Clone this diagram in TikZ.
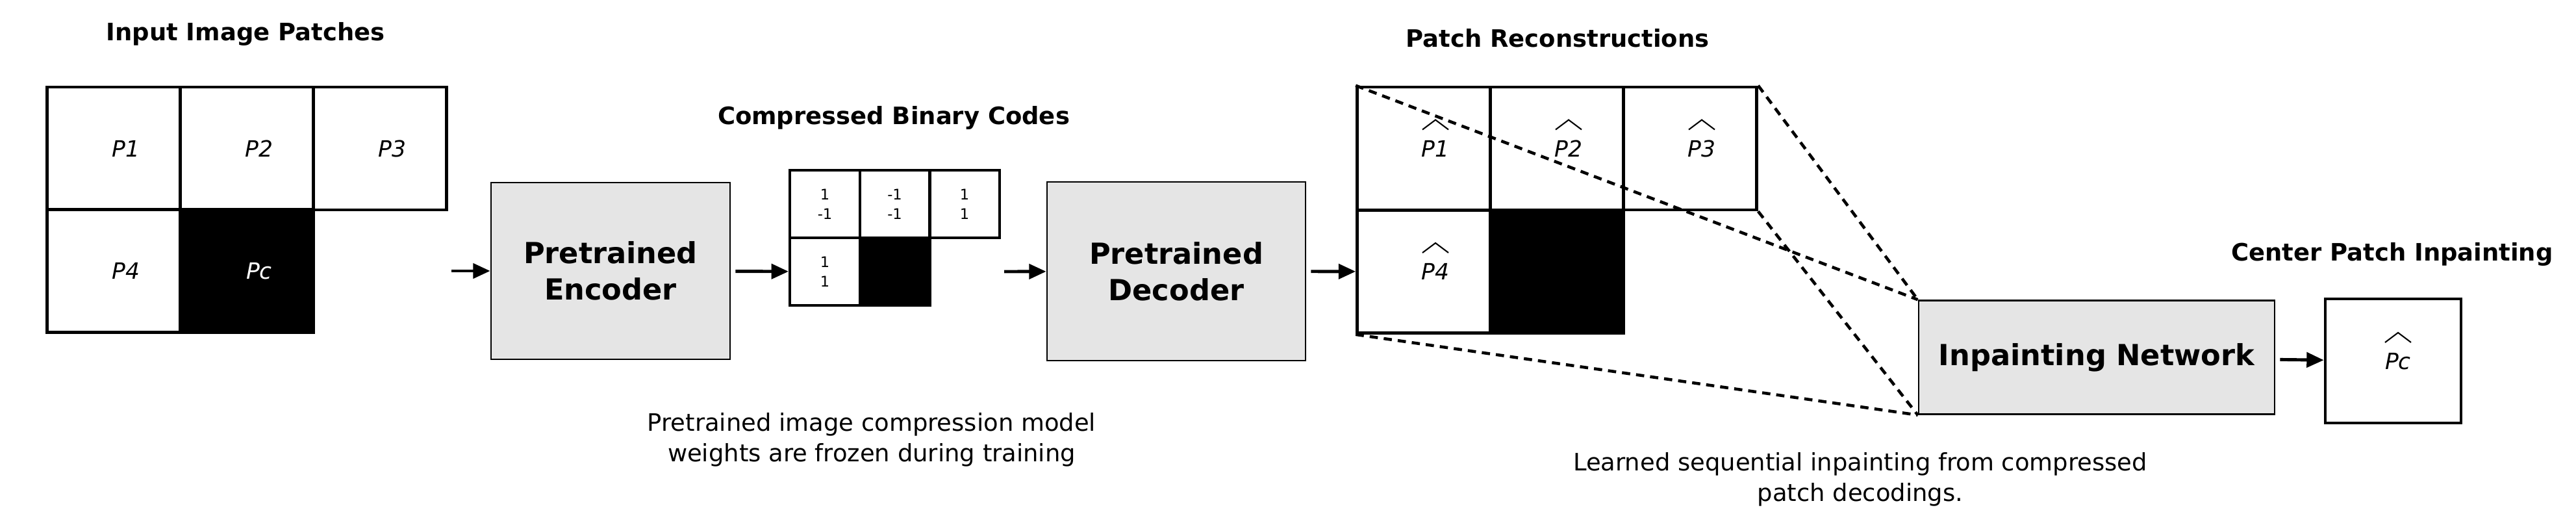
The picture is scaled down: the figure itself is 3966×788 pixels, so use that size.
\documentclass[tikz,border=0pt]{standalone}
\usepackage{fontspec}
\setmainfont{DejaVu Sans}
\usepackage{tikz}
\usetikzlibrary{arrows.meta}

\begin{document}
\begin{tikzpicture}[x=0.01cm,y=-0.01cm,
        cell/.style={draw,line width=1.3pt,minimum width=2.05cm,minimum height=1.89cm,inner sep=0pt},
        code/.style={draw,line width=1.2pt,minimum width=1.077cm,minimum height=1.04cm,inner sep=0pt,
          align=center,font=\fontsize{6.4}{8.5}\selectfont},
        net/.style={draw,line width=0.7pt,fill=black!10,align=center,inner sep=0pt,
          font=\bfseries\fontsize{12.7}{15.9}\selectfont},
        plabel/.style={font=\itshape\fontsize{9.8}{11}\selectfont,inner sep=0pt},
        title/.style={font=\bfseries\fontsize{10.5}{13}\selectfont,anchor=base,inner sep=0pt},
        note/.style={font=\fontsize{10.5}{13.4}\selectfont,align=center,inner sep=0pt},
        flow/.style={line width=1.4pt,-{Triangle[length=7.5pt,width=6.5pt]}},
        link/.style={line width=1.3pt,dash pattern=on 3.6pt off 2.6pt},
        hat/.style={line width=0.6pt}]
        \useasboundingbox (0,0) rectangle (3966,788);

        \node[title] (t1) at (378,62.5) {Input Image Patches};
        \node[title] (t2) at (1376,192) {Compressed Binary Codes};
        \node[title] (t3) at (2398,72.5) {Patch Reconstructions};
        \node[title] (t4) at (3683,401) {Center Patch Inpainting};

        \foreach \n/\x/\y in {i1/175/228.5, i2/380/228.5, i3/585/228.5, i4/175/417} {
          \node[cell] (\n) at (\x,\y) {};
        }
        \node[cell,fill=black] (i5) at (380,417) {};
        \foreach \n/\x/\y/\t in {i1/175/228.5/P1, i2/380/228.5/P2, i3/585/228.5/P3, i4/175/417/P4} {
          \node[plabel] (l\n) at (\x+19,\y) {\t};
        }
        \node[plabel,text=white] (li5) at (399,417) {Pc};

        \node[net,minimum width=3.68cm,minimum height=2.72cm] (enc) at (940,417) {Pretrained\\Encoder};

        \foreach \n/\x/\y/\t in {c1/1270/314/{1\\-1}, c2/1377.5/314/{-1\\-1}, c3/1485/314/{1\\1}, c4/1270/418/{1\\1}} {
          \node[code] (\n) at (\x,\y) {\t};
        }
        \node[code,fill=black] (c5) at (1377.5,418) {};

        \node[net,minimum width=3.98cm,minimum height=2.75cm] (dec) at (1811,417.5) {Pretrained\\Decoder};

        \foreach \n/\x/\y in {r1/2192/228.5, r2/2397/228.5, r3/2602/228.5, r4/2192/418} {
          \node[cell] (\n) at (\x,\y) {};
        }
        \node[cell,fill=black] (r5) at (2397,418) {};
        \foreach \n/\x/\y/\t in {r1/2192/228.5/P1, r2/2397/228.5/P2, r3/2602/228.5/P3, r4/2192/418/P4} {
          \node[plabel] (l\n) at (\x+18,\y) {\t};
        }

        \node[net,minimum width=5.48cm,minimum height=1.75cm] (inp) at (3228,550) {Inpainting Network};
        \node[draw,line width=1.3pt,minimum width=2.09cm,minimum height=1.91cm] (out) at (3684.5,555.5) {};
        \node[plabel] (lpc) at (3692,556) {Pc};

        \foreach \n in {lr1,lr2,lr3,lr4,lpc} {
          \draw[hat] ([shift={(-20,-29)}]\n.center) -- ++(20,-15) -- ++(20,15);
        }

        \coordinate (iR) at (695,417);
        \coordinate (cR) at (1546,418);
        \draw[flow] (iR) -- (enc);
        \draw[flow,shorten <=2pt] (enc) -- (c4);
        \draw[flow] (cR) -- (dec);
        \draw[flow,shorten <=2pt] (dec) -- (r4);
        \draw[flow,shorten <=2pt] (inp) -- (out);

        \draw[link] (r1.north west) -- (inp.north west);
        \draw[link] (r3.north east) -- (inp.north west);
        \draw[link] (r3.south east) -- (inp.south west);
        \draw[link] (r4.south west) -- (inp.south west);

        \node[note] (n1) at (1342,677) {Pretrained image compression model\\weights are frozen during training};
        \node[note] (n2) at (2864,738) {Learned sequential inpainting from compressed\\patch decodings.};
\end{tikzpicture}
\end{document}
